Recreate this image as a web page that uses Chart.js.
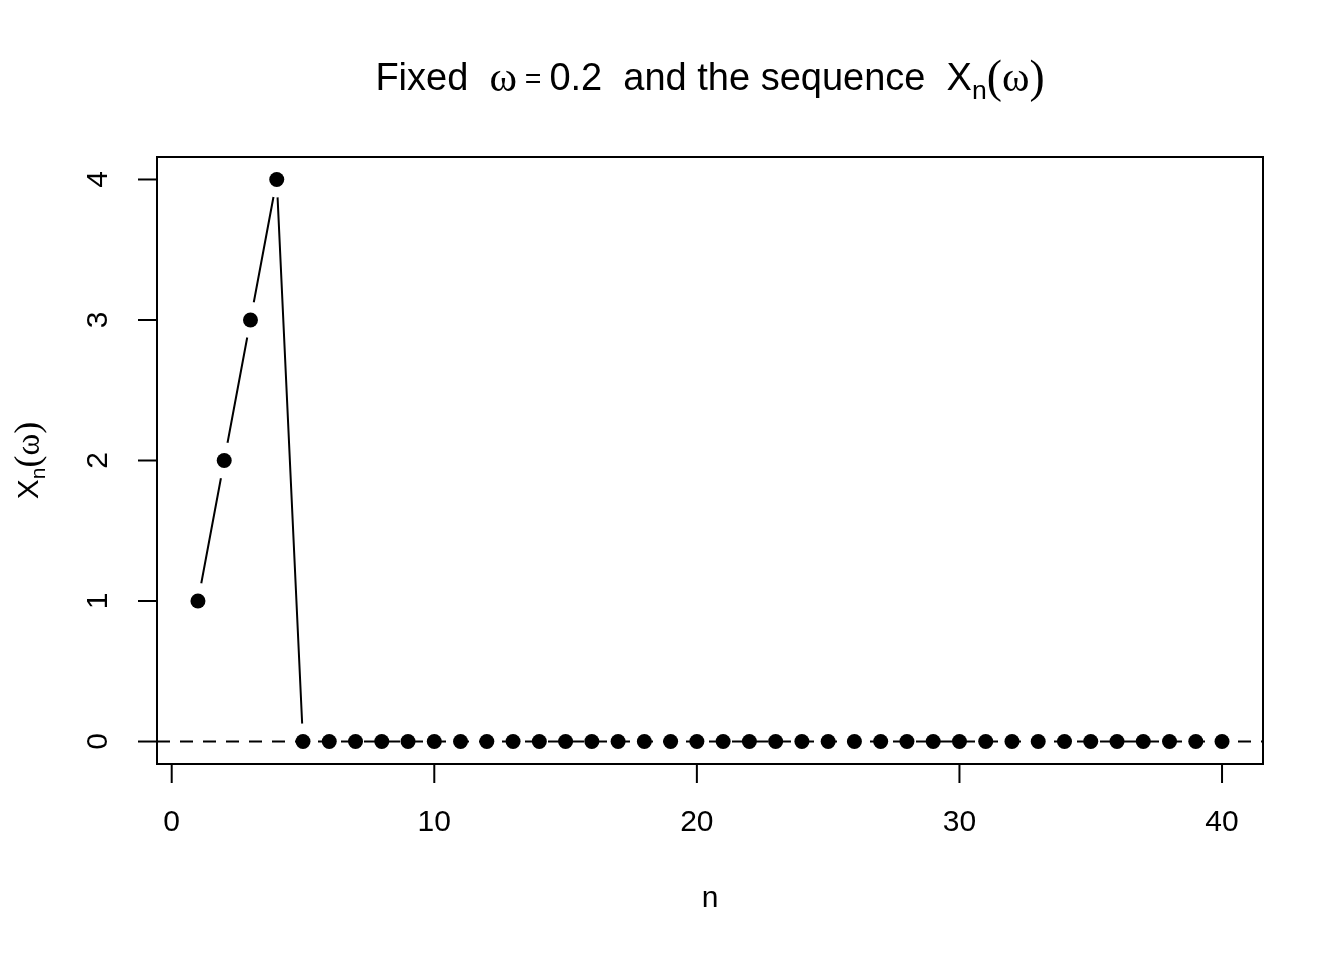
<!DOCTYPE html>
<html>
<head>
<meta charset="utf-8">
<script src="https://cdn.jsdelivr.net/npm/chart.js@4/dist/chart.umd.min.js"></script>
<style>
  body { margin: 0; background: #fff; }
  canvas { display: block; }
</style>
</head>
<body>
<canvas id="chart" width="1344" height="960"></canvas>
<script>
// the sequence X_n(w) for fixed w = 0.2
const nValues = [1, 2, 3, 4, 5, 6, 7, 8, 9, 10, 11, 12, 13, 14, 15, 16, 17, 18, 19, 20,
                 21, 22, 23, 24, 25, 26, 27, 28, 29, 30, 31, 32, 33, 34, 35, 36, 37, 38, 39, 40];
const xnValues = [1, 2, 3, 4, 0, 0, 0, 0, 0, 0, 0, 0, 0, 0, 0, 0, 0, 0, 0, 0,
                  0, 0, 0, 0, 0, 0, 0, 0, 0, 0, 0, 0, 0, 0, 0, 0, 0, 0, 0, 0];
const xTicks = [0, 10, 20, 30, 40];
const yTicks = [0, 1, 2, 3, 4];
const xRange = [-0.56, 41.56];
const yRange = [-0.16, 4.16];
const hLineY = 0;

const points = nValues.map((n, i) => ({ x: n, y: xnValues[i] }));

// box, ticks and labels drawn in R base-graphics style
const baseStyle = {
  id: 'baseStyle',
  afterDraw(chart) {
    const ctx = chart.ctx;
    const a = chart.chartArea;
    const xs = chart.scales.x, ys = chart.scales.y;
    ctx.save();
    ctx.strokeStyle = '#000';
    ctx.fillStyle = '#000';
    ctx.lineWidth = 2;
    ctx.strokeRect(a.left, a.top, a.right - a.left, a.bottom - a.top);

    ctx.font = '30px "Liberation Sans", Arial, sans-serif';
    ctx.textAlign = 'center';
    ctx.textBaseline = 'middle';
    xTicks.forEach(v => {
      const px = xs.getPixelForValue(v);
      ctx.beginPath();
      ctx.moveTo(px, a.bottom);
      ctx.lineTo(px, a.bottom + 19);
      ctx.stroke();
      ctx.fillText(String(v), px, a.bottom + 59);
    });
    yTicks.forEach(v => {
      const py = ys.getPixelForValue(v);
      ctx.beginPath();
      ctx.moveTo(a.left, py);
      ctx.lineTo(a.left - 19, py);
      ctx.stroke();
      ctx.save();
      ctx.translate(a.left - 58, py);
      ctx.rotate(-Math.PI / 2);
      ctx.fillText(String(v), 0, 0);
      ctx.restore();
    });

    // x axis title
    const cx = (a.left + a.right) / 2;
    ctx.fillText('n', cx, 899);

    // y axis title: X_n(w), rotated
    ctx.save();
    ctx.translate(30, (a.top + a.bottom) / 2);
    ctx.rotate(-Math.PI / 2);
    drawMath(ctx, 0, 0, 30, [
      { t: 'X', f: 'sans' }, { t: 'n', f: 'sans', sub: true },
      { t: '(', f: 'serif', s: 1.2 }, { t: 'ω', f: 'serif', s: 1.1 }, { t: ')', f: 'serif', s: 1.2 }
    ]);
    ctx.restore();

    // main title
    drawMath(ctx, cx, 80, 38, [
      { t: 'Fixed  ', f: 'sans' }, { t: 'ω', f: 'serif', s: 1.1 }, { t: ' = ', f: 'sans', s: 0.75 },
      { t: '0.2  and the sequence  X', f: 'sans' }, { t: 'n', f: 'sans', sub: true },
      { t: '(', f: 'serif', s: 1.2 }, { t: 'ω', f: 'serif', s: 1.1 }, { t: ')', f: 'serif', s: 1.2 }
    ]);
    ctx.restore();
  }
};

function fontFor(p, size) {
  const s = size * (p.s || 1) * (p.sub ? 0.7 : 1);
  const fam = p.f === 'serif' ? '"Liberation Serif", "DejaVu Serif", serif'
                              : '"Liberation Sans", Arial, sans-serif';
  return s + 'px ' + fam;
}

function drawMath(ctx, cx, cy, size, parts) {
  ctx.textAlign = 'left';
  ctx.textBaseline = 'middle';
  let total = 0;
  parts.forEach(p => { ctx.font = fontFor(p, size); total += ctx.measureText(p.t).width; });
  let x = cx - total / 2;
  parts.forEach(p => {
    ctx.font = fontFor(p, size);
    ctx.fillText(p.t, x, cy + (p.sub ? size * 0.3 : 0));
    x += ctx.measureText(p.t).width;
  });
  ctx.textAlign = 'center';
}

new Chart(document.getElementById('chart').getContext('2d'), {
  type: 'line',
  data: {
    datasets: [
      { // connecting line
        data: points, borderColor: '#000', borderWidth: 2, pointRadius: 0,
        fill: false, tension: 0, order: 4
      },
      { // white gaps around points (type = "b")
        data: points, showLine: false, pointRadius: 18, pointBorderWidth: 0,
        pointBackgroundColor: '#fff', order: 3
      },
      { // dashed reference line at 0
        data: [{ x: xRange[0], y: hLineY }, { x: xRange[1], y: hLineY }],
        borderColor: '#000', borderWidth: 2, borderDash: [13, 10], pointRadius: 0,
        fill: false, order: 2
      },
      { // points
        data: points, showLine: false, pointRadius: 7.5, pointBorderWidth: 0,
        pointBackgroundColor: '#000', order: 1
      }
    ]
  },
  options: {
    responsive: false,
    animation: false,
    devicePixelRatio: 1,
    layout: { padding: { left: 157, top: 157, right: 81, bottom: 196 } },
    plugins: { legend: { display: false }, tooltip: { enabled: false }, title: { display: false } },
    scales: {
      x: { type: 'linear', min: xRange[0], max: xRange[1], display: false },
      y: { type: 'linear', min: yRange[0], max: yRange[1], display: false }
    }
  },
  plugins: [baseStyle]
});
</script>
</body>
</html>
